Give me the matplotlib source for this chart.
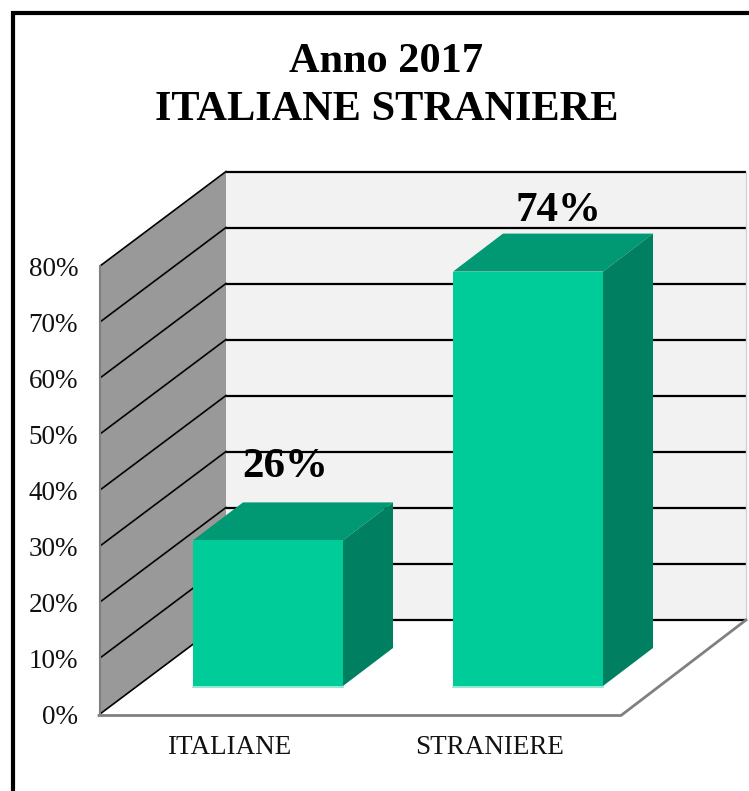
import numpy as np
import matplotlib
matplotlib.use('Agg')
import matplotlib.pyplot as plt
from matplotlib.patches import Polygon

# Dati
categorie = ['ITALIANE', 'STRANIERE']
valori = [26, 74]
etichette = ['26%', '74%']
tick_val = [0, 10, 20, 30, 40, 50, 60, 70, 80]
tick_lab = ['0%', '10%', '20%', '30%', '40%', '50%', '60%', '70%', '80%']

plt.rcParams['font.family'] = ['Liberation Serif', 'DejaVu Serif']

W, H = 749, 791
fig = plt.figure(figsize=(W / 100, H / 100), dpi=100)
ax = fig.add_axes([0, 0, 1, 1])
ax.set_xlim(0, W)
ax.set_ylim(H, 0)
ax.axis('off')

# geometria pseudo 3D in pixel
PX = 5.6          # pixel per punto percentuale
X0, Y0 = 100, 714  # spigolo frontale sinistro del pavimento
DX, DY = 126, -94  # profondita del grafico
LARG = 520
BASE_Y = 686       # base frontale delle barre
BAR_W, BAR_DX, BAR_DY = 150, 50, -38
BAR_X = [193, 453]
LAB_DX = [92.5, 105]
LAB_DY = [-73, -61]
CAT_X = [229, 490]


def wall_y(v):
    return Y0 + DY - v * PX


def front_y(v):
    return Y0 - v * PX


def face(pts, color, z):
    ax.add_patch(Polygon(pts, closed=True, facecolor=color, edgecolor='none', zorder=z))


top = tick_val[-1]
# parete di fondo e parete laterale
face([(X0 + DX, wall_y(0)), (X0 + DX + LARG, wall_y(0)),
      (X0 + DX + LARG, wall_y(top)), (X0 + DX, wall_y(top))], '#F2F2F2', 1)
face([(X0, front_y(0)), (X0 + DX, wall_y(0)),
      (X0 + DX, wall_y(top)), (X0, front_y(top))], '#999999', 1)

# griglia
for v, lab in zip(tick_val, tick_lab):
    ax.plot([X0 + DX, X0 + DX + LARG], [wall_y(v) - 0.5, wall_y(v) - 0.5], color='black', lw=1.6,
            solid_capstyle='butt', zorder=2)
    ax.plot([X0, X0 + DX], [front_y(v), wall_y(v) - 0.5], color='black', lw=1.2, zorder=2)
    ax.text(78, front_y(v) + 3, lab, ha='right', va='center', fontsize=19.5,
            color='#111111', zorder=5)

# bordi grigi
ax.plot([X0 - 0.5, X0 - 0.5], [front_y(0), front_y(top)], color='#808080', lw=1.5, zorder=3)
ax.plot([X0 - 1, X0 + LARG + 1, X0 + DX + LARG], [Y0 + 1.5, Y0 + 1.5, wall_y(0)],
        color='#808080', lw=2, zorder=3)
ax.plot([X0 + DX + LARG, X0 + DX + LARG], [wall_y(0), wall_y(top)], color='#D0D0D0', lw=1, zorder=2)

# barre
for x, v, lab, ldx, ldy in zip(BAR_X, valori, etichette, LAB_DX, LAB_DY):
    y_top = BASE_Y - v * PX
    face([(x, y_top), (x + BAR_W, y_top), (x + BAR_W + BAR_DX, y_top + BAR_DY),
          (x + BAR_DX, y_top + BAR_DY)], '#009973', 4)
    face([(x + BAR_W, BASE_Y), (x + BAR_W + BAR_DX, BASE_Y + BAR_DY),
          (x + BAR_W + BAR_DX, y_top + BAR_DY), (x + BAR_W, y_top)], '#008060', 4)
    face([(x, BASE_Y), (x + BAR_W, BASE_Y), (x + BAR_W, y_top), (x, y_top)], '#00CC99', 4)
    ax.plot([x, x + BAR_W], [BASE_Y + 0.5, BASE_Y + 0.5], color='#80E5CC', lw=1.2, zorder=4)
    ax.text(x + ldx, y_top + ldy, lab, ha='center', va='center', fontsize=31, fontweight='bold',
            color='black', zorder=6)

# categorie
for x, nome in zip(CAT_X, categorie):
    ax.text(x, 748, nome, ha='center', va='center', fontsize=19.5, color='#111111')

# titolo
ax.text(386, 62, 'Anno 2017', ha='center', va='center', fontsize=30.5, fontweight='bold')
ax.text(387, 110, 'ITALIANE STRANIERE', ha='center', va='center', fontsize=30.5, fontweight='bold')

# cornice
ax.plot([13, 13, W], [H, 12.5, 12.5], color='black', lw=3, solid_joinstyle='miter', zorder=7)

fig.savefig('out.png', dpi=100)
